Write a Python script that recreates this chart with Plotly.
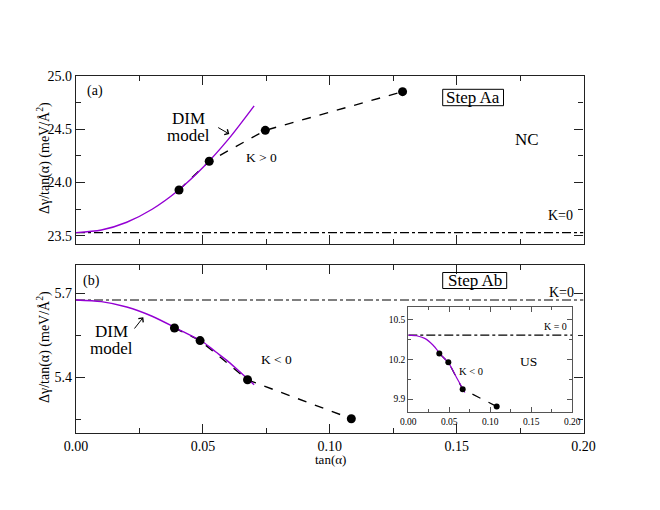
import plotly.graph_objects as go

# ---------------- data ----------------
# Panel (a): Step Aa
xa_pts = [0.0406, 0.0525, 0.0746, 0.1287]
ya_pts = [23.93, 24.20, 24.49, 24.853]
xa_dim = [0.0, 0.01, 0.02, 0.03, 0.04, 0.05, 0.06, 0.0702]
ya_dim = [23.53, 23.554, 23.627, 23.749, 23.92, 24.14, 24.405, 24.72]
k0_a = 23.53

# Panel (b): Step Ab
xb_pts = [0.0388, 0.0489, 0.0676, 0.1085]
yb_pts = [5.575, 5.530, 5.390, 5.251]
xb_dim = [0.0, 0.01, 0.02, 0.03, 0.04, 0.05, 0.055, 0.06, 0.065, 0.0702]
yb_dim = [5.675, 5.669, 5.650, 5.617, 5.572, 5.525, 5.49, 5.455, 5.415, 5.372]
k0_b = 5.675

# Inset (US)
xi_pts = [0.0378, 0.0488, 0.0663, 0.1078]
yi_pts = [10.245, 10.18, 9.975, 9.844]
xi_dim = [0.0, 0.01, 0.02, 0.03, 0.04, 0.05, 0.06, 0.069]
yi_dim = [10.385, 10.38, 10.36, 10.31, 10.235, 10.165, 10.05, 9.95]
k0_i = 10.385

x_span = [0.0, 0.2]

FONT = "Liberation Serif, Times New Roman, Times, serif"
PURPLE = "#9400D3"
W, H = 660, 510
OFF = 8  # page body margin in the viewer


def px(x):
    return (x - OFF) / W


def py(y):
    return 1 - (y - OFF) / H


fig = go.Figure()


def add_panel(xs, ys, xd, yd, k0, xa, ya, msize, lw):
    fig.add_trace(go.Scatter(x=x_span, y=[k0, k0], mode="lines", xaxis=xa, yaxis=ya,
                             line=dict(color="black", width=1.1, dash="dashdot")))
    fig.add_trace(go.Scatter(x=xs, y=ys, mode="lines", xaxis=xa, yaxis=ya,
                             line=dict(color="black", width=lw, dash="dash")))
    fig.add_trace(go.Scatter(x=xd, y=yd, mode="lines", xaxis=xa, yaxis=ya,
                             line=dict(color=PURPLE, width=lw, shape="spline", smoothing=0.8)))
    fig.add_trace(go.Scatter(x=xs, y=ys, mode="markers", xaxis=xa, yaxis=ya,
                             marker=dict(color="black", size=msize)))


add_panel(xa_pts, ya_pts, xa_dim, ya_dim, k0_a, "x", "y", 9, 1.4)
add_panel(xb_pts, yb_pts, xb_dim, yb_dim, k0_b, "x2", "y2", 9, 1.4)
add_panel(xi_pts, yi_pts, xi_dim, yi_dim, k0_i, "x3", "y3", 6, 1.2)


def axis(domain, rng, dtick, tick0, minor_dtick, fmt, showlabels, size, tl, mtl, anchor, lc="#222"):
    return dict(domain=domain, range=rng, dtick=dtick, tick0=tick0, tickformat=fmt,
                ticks="inside", ticklen=tl, tickwidth=1, tickcolor=lc,
                minor=dict(ticks="inside", ticklen=mtl, dtick=minor_dtick, tickwidth=1, tickcolor=lc),
                showline=True, linecolor=lc, linewidth=1.2, mirror="allticks",
                showgrid=False, zeroline=False, showticklabels=showlabels, automargin=False,
                tickfont=dict(family=FONT, size=size, color="black"), anchor=anchor)


xdom = [px(76), px(583.5)]
fig.update_layout(
    width=W, height=H, margin=dict(l=0, r=0, t=0, b=0, pad=0), autosize=False,
    paper_bgcolor="white", plot_bgcolor="white", showlegend=False,
    font=dict(family=FONT),
    xaxis=axis(xdom, [0, 0.2], 0.05, 0, 0.025, ".2f", False, 14, 9, 5, "y"),
    yaxis=axis([py(244.3), py(76)], [23.42, 25.0], 0.5, 23.5, 0.25, ".1f", True, 14, 9, 5, "x"),
    xaxis2=axis(xdom, [0, 0.2], 0.05, 0, 0.025, ".2f", True, 14, 9, 5, "y2"),
    yaxis2=axis([py(433), py(265)], [5.2, 5.8], 0.3, 5.4, 0.15, ".1f", True, 14, 9, 5, "x2"),
    xaxis3=axis([px(408.3), px(572.3)], [0, 0.2], 0.05, 0, 0.025, ".2f", True, 9.5, 5, 3, "y3", "#555"),
    yaxis3=axis([py(412.3), py(306.7)], [9.8, 10.6], 0.3, 9.9, 0.15, ".1f", True, 9.5, 5, 3, "x3", "#555"),
)

ann = []


def txt(t, x, y, size, xanchor="center"):
    ann.append(dict(text=t, x=px(x), y=py(y), xref="paper", yref="paper", showarrow=False,
                    xanchor=xanchor, yanchor="middle", borderpad=0,
                    font=dict(family=FONT, size=size, color="black")))


# panel a
txt("(a)", 95, 90.7, 14)
txt("DIM", 188.3, 118.0, 17)
txt("model", 188.3, 135.5, 17)
txt("K &gt; 0", 261, 157, 13.5)
txt("Step Aa", 472.7, 97.5, 17)
txt("NC", 526.7, 139, 17)
txt("K=0", 560, 215, 14)
# panel b
txt("(b)", 91.7, 280.7, 14)
txt("DIM", 111.7, 331.5, 17)
txt("model", 111.7, 348.0, 17)
txt("K &lt; 0", 276, 359, 13.5)
txt("Step Ab", 474.7, 280.5, 17)
txt("K=0", 561, 292, 14)
# inset
txt("K = 0", 555, 326.7, 10)
txt("US", 528.3, 361.7, 13.5)
txt("K &lt; 0", 470.7, 371.7, 10.5)

# axis titles
ytitle = "Δγ/tan(α) (meV/Å<sup>2</sup>)"
for yc in (158, 347):
    ann.append(dict(text=ytitle, x=px(43), y=py(yc), xref="paper", yref="paper", showarrow=False,
                    textangle=-90, xanchor="center", yanchor="middle",
                    font=dict(family=FONT, size=14, color="black")))
ann.append(dict(text="tan(α)", x=px(330), y=py(459), xref="paper", yref="paper", showarrow=False,
                xanchor="center", yanchor="middle", borderpad=0,
                font=dict(family=FONT, size=13, color="black")))

# arrows
for hx, hy, ax, ay in ((229.3, 134, -12.6, -7.3), (143.3, 317.3, -10, 12.7)):
    ann.append(dict(text="", x=px(hx), y=py(hy), xref="paper", yref="paper", showarrow=True,
                    ax=ax, ay=ay, axref="pixel", ayref="pixel", arrowhead=4, arrowsize=1.2,
                    arrowwidth=1, arrowcolor="black"))

fig.update_layout(annotations=ann)

# boxes around Step labels
for x0, y0, x1, y1 in ((442.7, 89.3, 503.5, 105.7), (442.7, 272.5, 506.7, 288.5)):
    fig.add_shape(type="rect", xref="paper", yref="paper", x0=px(x0), x1=px(x1), y0=py(y1), y1=py(y0),
                  line=dict(color="black", width=1), fillcolor="rgba(0,0,0,0)")

fig.write_html("out.html")
